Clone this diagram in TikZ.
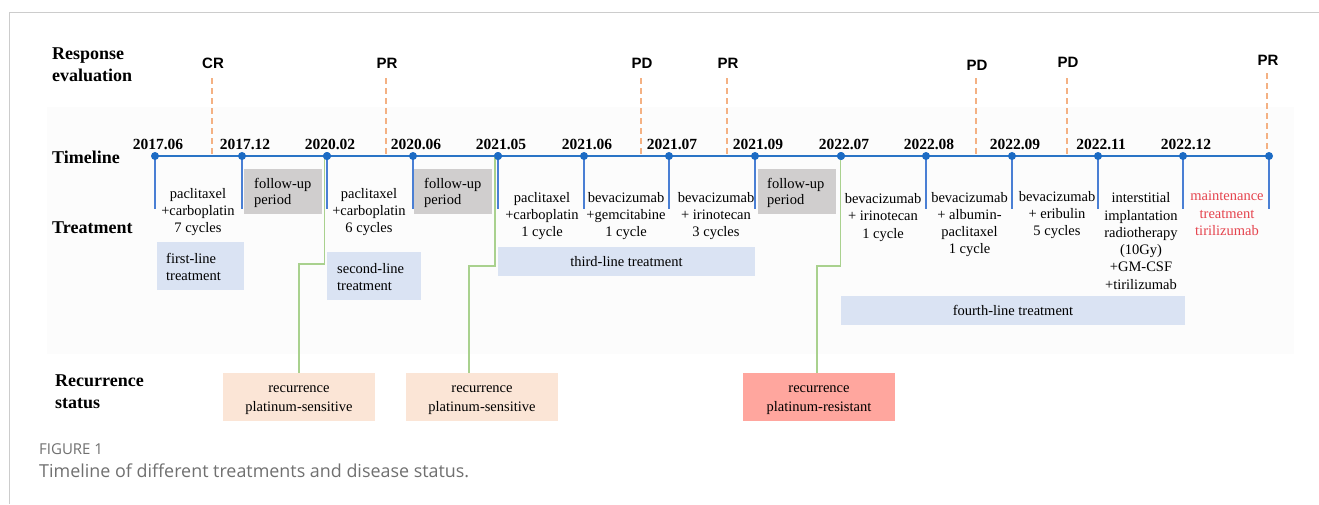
\documentclass[tikz,border=0pt]{standalone}
\usepackage{fontspec}
\setmainfont{Liberation Serif}
\newfontfamily\arialfont{Liberation Sans}
\newfontfamily\capfont{Open Sans}
\definecolor{tlblue}{HTML}{2A74C6}
\definecolor{dotblue}{HTML}{1C6BC4}
\definecolor{tickblue}{HTML}{4A7FD4}
\definecolor{dashorange}{HTML}{F4B183}
\definecolor{linegreen}{HTML}{A9D18E}
\definecolor{boxblue}{HTML}{DAE3F3}
\definecolor{boxgrey}{HTML}{D0CECE}
\definecolor{boxpeach}{HTML}{FBE5D6}
\definecolor{boxsalmon}{HTML}{FFA69E}
\definecolor{redtext}{HTML}{E5444E}
\definecolor{framegrey}{HTML}{CCCCCC}
\definecolor{captiongrey}{HTML}{707070}
\definecolor{panelgrey}{HTML}{FCFCFC}
\begin{document}
\begin{tikzpicture}[x=1pt,y=-1pt,
  rowlabel/.style={font=\fontsize{18}{22}\selectfont\bfseries, anchor=west, align=left, inner sep=0},
  datelabel/.style={font=\fontsize{15.5}{18}\selectfont\bfseries, inner sep=0, anchor=base},
  evallabel/.style={font=\arialfont\fontsize{15}{18}\selectfont\bfseries, inner sep=0},
  tdot/.style={circle, fill=dotblue, minimum size=8pt, inner sep=0},
  tick/.style={draw=tickblue, line width=1.3pt},
  evaldash/.style={draw=dashorange, line width=1.6pt, dash pattern=on 6pt off 4pt},
  treattext/.style={font=\fontsize{14.5}{17.3}\selectfont, align=center, inner sep=0},
  followbox/.style={fill=boxgrey, minimum width=78pt, minimum height=45pt, inner sep=0},
  followtext/.style={align=left, inner sep=0, anchor=west, font=\fontsize{14.5}{16.5}\selectfont},
  linebox/.style={fill=boxblue, inner sep=0, font=\fontsize{14.5}{17.3}\selectfont},
  linetext/.style={inner sep=0, anchor=west, align=left, font=\fontsize{14.5}{17.3}\selectfont},
  recbox/.style={minimum width=152pt, minimum height=48pt, inner sep=0},
  rectext/.style={inner sep=0, font=\fontsize{14.5}{19}\selectfont, align=center},
  greenline/.style={draw=linegreen, line width=1.6pt}
]
\useasboundingbox (0,0) rectangle (1319,504);
\fill[white] (0,0) rectangle (1319,504);
% frame
\draw[framegrey, line width=1pt] (9,504) -- (9,12.5) -- (1319,12.5);
% panel
\fill[panelgrey] (47,107) rectangle (1294,354);

% row labels
\node[rowlabel] (lresp) at (52,65) {Response\\[0pt]evaluation};
\node[rowlabel] (ltime) at (52,157) {Timeline};
\node[rowlabel] (ltreat) at (52,228) {Treatment};
\node[rowlabel] (lrec) at (55,392) {Recurrence\\[0pt]status};

% orange dashed evaluation lines
\foreach \x/\t/\ty/\tp in {212/CR/63/78, 386/PR/63/78, 641/PD/63/78, 727/PR/63/78, 976/PD/65/78, 1067/PD/62/78, 1267/PR/60/73}{
  \node[evallabel] (e\x) at (\x+1,\ty) {\t};
  \draw[evaldash] (\x,\tp) -- (\x,156);
}

% timeline
\coordinate (tlstart) at (155,156);
\coordinate (tlend) at (1269,156);
\draw[tlblue, line width=1.6pt] (tlstart) -- (tlend);

% ticks and dates
\foreach \i/\x/\d in {1/155/2017.06, 2/242/2017.12, 3/327/2020.02, 4/413/2020.06, 5/498/2021.05, 6/584/2021.06, 7/669/2021.07, 8/755/2021.09, 9/841/2022.07, 10/926/2022.08, 11/1012/2022.09, 12/1098/2022.11, 13/1183/2022.12, 14/1269/x}{
  \ifnum\i=9\else
    \draw[tick] (\x,156) -- (\x,209);
  \fi
  \ifnum\i<14
    \node[datelabel] (date\i) at (\x+3,149) {\d};
  \fi
}

% recurrence boxes
\node[recbox, fill=boxpeach] (rec1) at (299,397) {};
\node[rectext] (rec1t) at (299,400) {recurrence\\platinum-sensitive};
\node[recbox, fill=boxpeach] (rec2) at (482,397) {};
\node[rectext] (rec2t) at (482,400) {recurrence\\platinum-sensitive};
\node[recbox, fill=boxsalmon] (rec3) at (819,397) {};
\node[rectext] (rec3t) at (819,400) {recurrence\\platinum-resistant};

% dots
\foreach \i/\x in {1/155, 2/242, 3/327, 4/413, 5/498, 6/584, 7/669, 8/755, 9/841, 10/926, 11/1012, 12/1098, 13/1183, 14/1269}{
  \node[tdot] (d\i) at (\x,156) {};
}

% green connectors
\draw[greenline] ([xshift=-2.5pt]d3.center) -- ++(0,108) -| (rec1.north);
\draw[greenline] ([xshift=-3pt]d5.center) -- ++(0,110) -| ([xshift=-13pt]rec2.north);
\draw[greenline] ([xshift=-0.5pt]d9.center) -- ++(0,110) -| ([xshift=-2pt]rec3.north);
\node[tdot] at (d3) {};
\node[tdot] at (d5) {};
\node[tdot] at (d9) {};

% follow-up boxes
\node[followbox] (f1) at (283,191.5) {};
\node[followtext] (f1t) at (254,193) {follow-up\\period};
\node[followbox] (f2) at (453,191.5) {};
\node[followtext] (f2t) at (424,193) {follow-up\\period};
\node[followbox] (f3) at (797,191.5) {};
\node[followtext] (f3t) at (767,193) {follow-up\\period};

% treatment texts
\node[treattext] (t1) at (198,212) {paclitaxel\\+carboplatin\\7 cycles};
\node[treattext] (t2) at (369,212) {paclitaxel\\+carboplatin\\6 cycles};
\node[treattext] (t3) at (542,216) {paclitaxel\\+carboplatin\\1 cycle};
\node[treattext] (t4) at (626,216) {bevacizumab\\+gemcitabine\\1 cycle};
\node[treattext] (t5) at (716,216) {bevacizumab\\+ irinotecan\\3 cycles};
\node[treattext] (t6) at (883,217.5) {bevacizumab\\+ irinotecan\\1 cycle};
\node[treattext] (t7) at (969.5,224.5) {bevacizumab\\+ albumin-\\paclitaxel\\1 cycle};
\node[treattext] (t8) at (1057,215) {bevacizumab\\+ eribulin\\5 cycles};
\node[treattext] (t9) at (1141,241) {interstitial\\implantation\\radiotherapy\\(10Gy)\\+GM-CSF\\+tirilizumab};
\node[treattext, text=redtext] (t10) at (1227,213.5) {maintenance\\treatment\\tirilizumab};

% treatment line boxes
\node[linebox, minimum width=87pt, minimum height=48pt] (b1) at (200,266) {};
\node[linetext] (b1t) at (166,267) {first-line\\treatment};
\node[linebox, minimum width=94pt, minimum height=48pt] (b2) at (374,276) {};
\node[linetext] (b2t) at (337,277) {second-line\\treatment};
\node[linebox, minimum width=257pt, minimum height=29pt] (b3) at (626.5,261.5) {third-line treatment};
\node[linebox, minimum width=344pt, minimum height=29pt] (b4) at (1013,310.5) {fourth-line treatment};

% caption
\node[anchor=west, inner sep=0, text=captiongrey, font=\capfont\fontsize{15}{18}\selectfont] (capA) at (39,449) {FIGURE 1};
\node[anchor=west, inner sep=0, text=captiongrey, font=\capfont\fontsize{17.9}{21}\selectfont] (capB) at (39,471) {Timeline of different treatments and disease status.};
\end{tikzpicture}
\end{document}
